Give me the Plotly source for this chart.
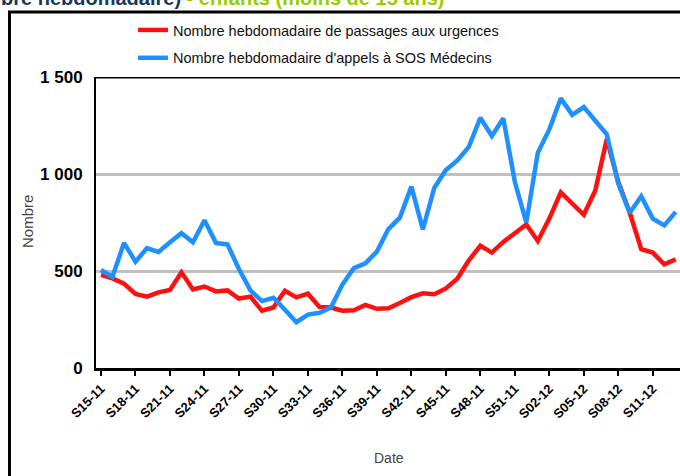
import plotly.graph_objects as go

weeks = [f"S{w:02d}-11" for w in range(15, 53)] + [f"S{w:02d}-12" for w in range(1, 14)]

urgences = [480, 462, 435, 382, 368, 390, 402, 493, 405, 420, 395, 400, 358, 368, 296,
            312, 398, 364, 383, 315, 312, 295, 298, 325, 305, 308, 335, 365, 385, 380,
            410, 460, 555, 630, 595, 650, 695, 740, 655, 770, 905, 850, 790, 915, 1180,
            960, 800, 612, 595, 535, 560]

sos = [505, 470, 645, 548, 618, 598, 648, 695, 648, 762, 645, 637, 510, 400, 345,
       362, 300, 236, 275, 285, 312, 430, 515, 540, 600, 716, 775, 935, 715, 929,
       1020, 1070, 1140, 1290, 1196, 1287, 960, 750, 1110, 1230, 1390, 1305, 1345, 1275, 1205,
       950, 800, 885, 770, 735, 805]

tick_weeks = weeks[::3]
y_ticks = [0, 500, 1000, 1500]
y_ticktext = ["0", "500", "1 000", "1 500"]

name_urg = "Nombre hebdomadaire de passages aux urgences"
name_sos = "Nombre hebdomadaire d'appels à SOS Médecins"
title_a = "bre hebdomadaire)"
title_b = " - enfants (moins de 15 ans)"

W, H = 680, 476
L, R, T, B = 96, 0, 77, 108
pw, ph = W - L - R, H - T - B

def px(x):
    return (x - L) / pw

def py(y):
    return (H - B - y) / ph

fig = go.Figure()
fig.add_trace(go.Scatter(x=weeks, y=urgences, mode="lines", name=name_urg,
                         line=dict(color="#ff1010", width=4.5), legendgroup="a"))
fig.add_trace(go.Scatter(x=weeks, y=sos, mode="lines", name=name_sos,
                         line=dict(color="#1e90ff", width=4.5), legendgroup="b"))

fig.update_layout(
    width=W, height=H,
    margin=dict(l=L, r=R, t=T, b=B),
    paper_bgcolor="white", plot_bgcolor="white",
    font=dict(family="Liberation Sans, Arial, sans-serif", color="black"),
    showlegend=True,
    legend=dict(x=px(133), y=py(14), xanchor="left", yanchor="top",
                font=dict(family="Liberation Sans, Arial, sans-serif", size=14.5, color="#111"),
                tracegroupgap=6, bgcolor="rgba(0,0,0,0)"),
    xaxis=dict(
        type="category", range=[-0.435, 50.37],
        tickmode="array", tickvals=tick_weeks, ticktext=tick_weeks,
        tickangle=-45, ticks="outside", ticklen=5, tickwidth=2, tickcolor="black",
        tickfont=dict(size=13, color="black", family="Liberation Sans, Arial", weight="bold"),
        showline=True, linecolor="black", linewidth=3, showgrid=False, zeroline=False,
    ),
    yaxis=dict(
        range=[0, 1500], tickmode="array", tickvals=y_ticks, ticktext=y_ticktext,
        tickfont=dict(size=17, color="black", family="Liberation Sans, Arial", weight="bold"),
        showline=True, linecolor="black", linewidth=2,
        showgrid=True, gridcolor="#c0c0c0", gridwidth=3, zeroline=False,
        ticks="", ticklabelstandoff=8,
    ),
    shapes=[
        dict(type="line", xref="paper", yref="y", x0=0, x1=1, y0=1500, y1=1500,
             line=dict(color="black", width=3)),
        dict(type="line", xref="paper", yref="paper", x0=px(9.5), x1=px(9.5), y0=py(12), y1=py(480),
             line=dict(color="black", width=3)),
        dict(type="line", xref="paper", yref="paper", x0=px(8), x1=px(682), y0=py(12), y1=py(12),
             line=dict(color="black", width=3)),
    ],
    annotations=[
        dict(xref="paper", yref="paper", x=px(-1), y=py(11), xanchor="left", yanchor="bottom",
             showarrow=False, align="left",
             text=f"<b><span style='color:#17375e'>{title_a}</span><span style='color:#99cc00'>{title_b}</span></b>",
             font=dict(size=20, family="Liberation Sans, Arial")),
        dict(xref="paper", yref="paper", x=px(389), y=py(458), xanchor="center", yanchor="middle",
             showarrow=False, text="Date", font=dict(size=14, color="#444")),
        dict(xref="paper", yref="paper", x=px(27), y=py(222), xanchor="center", yanchor="middle",
             showarrow=False, text="Nombre", textangle=-90, font=dict(size=15, color="#444")),
    ],
)

fig.write_html("out.html", config={"displayModeBar": False},
               post_script="document.body.style.margin='0';document.body.style.overflow='hidden';")
